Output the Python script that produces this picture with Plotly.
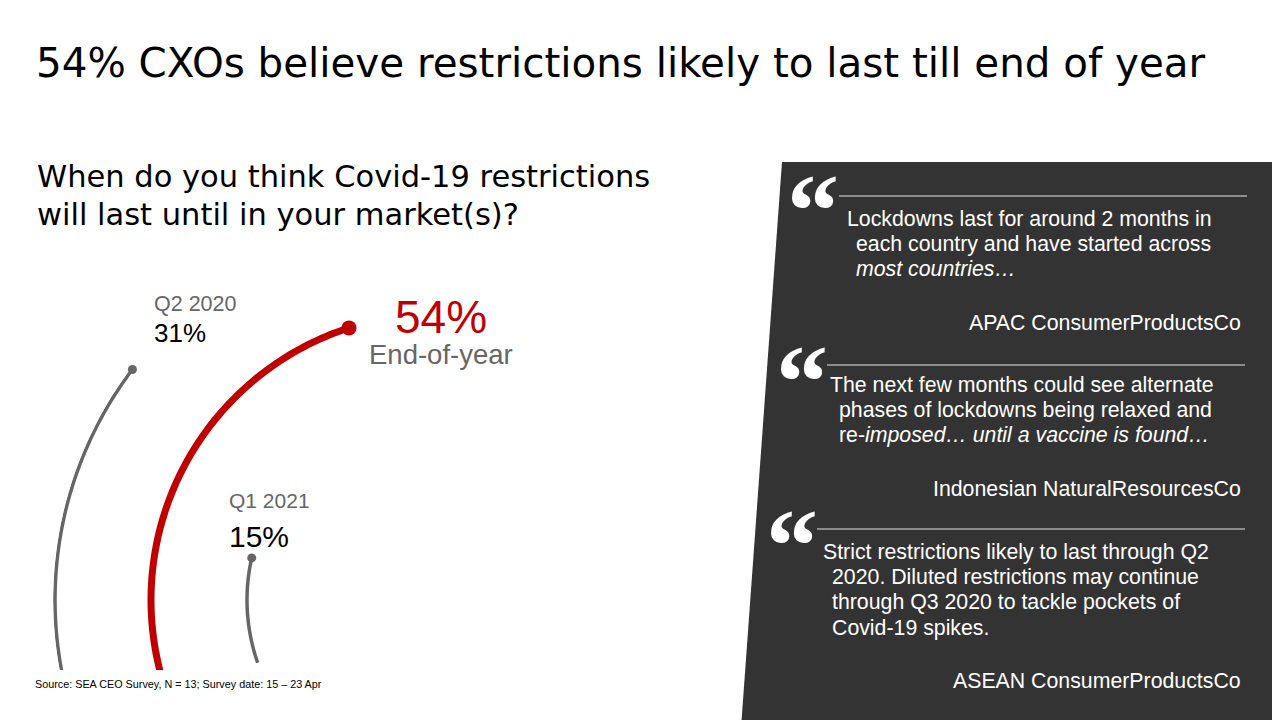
import numpy as np
import plotly.graph_objects as go

W, H = 1280, 720
OFF = 8   # the page body margin shifts the figure by 8px

# --- data ---------------------------------------------------------------
periods = ["Q2 2020", "End-of-year", "Q1 2021"]
shares = [31, 54, 15]
ring_order = ["Q1 2021", "End-of-year", "Q2 2020"]   # inner -> outer ring

title = "54% CXOs believe restrictions likely to last till end of year"
question = ["When do you think Covid-19 restrictions", "will last until in your market(s)?"]
source = "Source: SEA CEO Survey, N = 13; Survey date: 15 \u2013 23 Apr"

quotes = [
    ["Lockdowns last for around 2 months in",
     "each country and have started across",
     "<i>most countries\u2026</i>"],
    ["The next few months could see alternate",
     "phases of lockdowns being relaxed and",
     "re-<i>imposed\u2026 until a vaccine is found\u2026</i>"],
    ["Strict restrictions likely to last through Q2",
     "2020. Diluted restrictions may continue",
     "through Q3 2020 to tackle pockets of",
     "Covid-19 spikes."],
]
quote_by = ["APAC ConsumerProductsCo", "Indonesian NaturalResourcesCo", "ASEAN ConsumerProductsCo"]

# --- style ----------------------------------------------------------------
SANS = "Liberation Sans"
WIDE = "DejaVu Sans"
GREY = "#666666"
RED = "#C00000"
PANEL = "#333333"
DEG_PER_PCT = 1.52      # angular scale of the arcs
ARC_TAIL = -10          # arcs start a little below the baseline, then get clipped
arc_style = {"Q2 2020": (GREY, 3.5, 9), "End-of-year": (RED, 7, 15), "Q1 2021": (GREY, 3.5, 9)}


def px(x):
    return (x - OFF) / W


def py(y):
    return 1 - (y - OFF) / H


fig = go.Figure()

for p, s in zip(periods, shares):
    color, lw, ms = arc_style[p]
    th = np.linspace(ARC_TAIL, s, 120) * DEG_PER_PCT
    fig.add_trace(go.Scatterpolar(r=[p] * len(th), theta=th, mode="lines",
                                  line=dict(color=color, width=lw), hoverinfo="skip"))
    fig.add_trace(go.Scatterpolar(r=[p], theta=[s * DEG_PER_PCT], mode="markers",
                                  marker=dict(color=color, size=ms), name=p,
                                  hovertemplate=f"{p}: {s}%<extra></extra>"))

fig.update_layout(
    width=W, height=H, margin=dict(l=0, r=0, t=0, b=0),
    paper_bgcolor="white", showlegend=False,
    polar=dict(
        domain=dict(x=[px(53), px(437)], y=[py(726.9), py(216)]),
        sector=[90, 199.3], bgcolor="rgba(0,0,0,0)",
        radialaxis=dict(type="category", categoryorder="array", categoryarray=ring_order,
                        range=[-1.979, 2.021], visible=False),
        angularaxis=dict(rotation=190, direction="clockwise", visible=False),
    ),
)

# baseline clip for the arcs + dark quote panel
fig.add_shape(type="rect", xref="paper", yref="paper", x0=0, x1=px(600), y0=0, y1=py(670),
              fillcolor="white", line_width=0, layer="above")
fig.add_shape(type="path", xref="paper", yref="paper",
              path=f"M {px(782)},{py(162)} L 1,{py(162)} L 1,0 L {px(741)},0 Z",
              fillcolor=PANEL, line_width=0, layer="below")


def text(x, base, s, size, color="black", family=SANS, anchor="left"):
    fig.add_annotation(x=px(x), y=py(base - 0.35 * size), xref="paper", yref="paper",
                       xanchor=anchor, yanchor="middle", text=s, showarrow=False,
                       borderpad=0, borderwidth=0,
                       font=dict(family=family, size=size, color=color))


text(36, 77, title, 40.4, family=WIDE)
text(37, 187, question[0], 30.5, family=WIDE)
text(37, 225, question[1], 30.5, family=WIDE)

# arc labels
text(154, 312, periods[0], 21.5, GREY)
text(154, 342, f"{shares[0]}%", 26)
text(441, 333, f"{shares[1]}%", 46, RED, anchor="center")
text(441, 364, periods[1], 27.5, GREY, anchor="center")
text(229, 508, periods[2], 21, GREY)
text(229, 547, f"{shares[2]}%", 30)
text(35, 688, source, 10.8)

# quotes
quote_mark = [(815, 193), (804, 364), (794, 528)]     # ink centre of the quote glyph
rule = [(839, 1247, 196), (827, 1245, 365), (817, 1245, 529)]
first_x = [847, 830, 823]
rest_x = [856, 839, 832]
first_base = [226, 392, 559]
attr_base = [330, 496, 688]
LINE = 25.4
QSIZE = 104

for i, lines in enumerate(quotes):
    qx, qy = quote_mark[i]
    fig.add_annotation(x=px(qx - 0.27 * QSIZE), y=py(qy + 0.165 * QSIZE), xref="paper", yref="paper",
                       xanchor="left", yanchor="middle", text="\u201c", showarrow=False,
                       borderpad=0, borderwidth=0,
                       font=dict(family="Liberation Serif", size=QSIZE, color="white", weight="bold"))
    x0, x1, ry = rule[i]
    fig.add_shape(type="line", xref="paper", yref="paper", x0=px(x0), x1=px(x1),
                  y0=py(ry), y1=py(ry), line=dict(color="#8c8c8c", width=2))
    for j, ln in enumerate(lines):
        text(first_x[i] if j == 0 else rest_x[i], first_base[i] + j * LINE, ln, 21.3, "white")
    text(1241, attr_base[i], quote_by[i], 21.3, "white", anchor="right")

fig.write_html("out.html")
